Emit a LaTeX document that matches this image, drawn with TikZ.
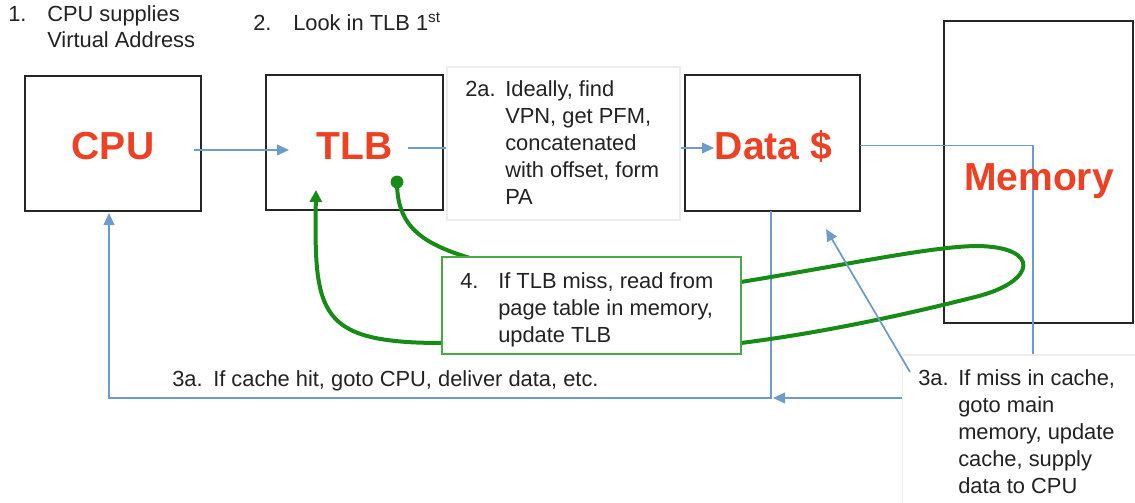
\documentclass[tikz,border=0pt]{standalone}
\usepackage{fontspec}
\setmainfont{Liberation Sans}
\usetikzlibrary{arrows.meta}
\definecolor{boxred}{RGB}{238,64,34}
\definecolor{lineblue}{RGB}{108,155,205}
\definecolor{loopgreen}{RGB}{22,140,22}
\definecolor{boxgreen}{RGB}{70,170,70}
\definecolor{txtgray}{RGB}{34,34,34}
\def\px{0.75pt}
\begin{document}
\begin{tikzpicture}[x=0.75pt,y=-0.75pt,
  blk/.style={draw=black!85, line width=1.8pt, inner sep=0},
  lbl/.style={font=\fontsize{29.3}{32}\selectfont\bfseries, text=boxred, inner sep=0, anchor=base},
  t/.style={font=\fontsize{16.4}{20}\selectfont, text=txtgray, inner sep=0, anchor=base west},
  panel/.style={fill=white, draw=black!7, line width=0.8pt, inner sep=0},
  gpanel/.style={fill=white, draw=boxgreen, line width=1.2pt, inner sep=0},
  barrow/.style={draw=lineblue, line width=1.3pt, -{Triangle[length=9pt,width=8pt]}},
  bline/.style={draw=lineblue, line width=1.3pt},
  gline/.style={draw=loopgreen, line width=3pt},
  garrow/.style={draw=loopgreen, line width=3pt, -{Triangle[length=9pt,width=9pt]}}]
\useasboundingbox (0,0) rectangle (1135,503);
\fill[white] (0,0) rectangle (1135,503);

% main boxes
\node[blk, minimum width=176*\px, minimum height=135*\px] (cpu) at (113,143.5) {};
\node[blk, minimum width=177*\px, minimum height=135*\px] (tlb) at (354.5,142.5) {};
\node[blk, minimum width=175*\px, minimum height=136*\px] (data) at (772.5,143) {};
\node[blk, minimum width=189*\px, minimum height=302*\px] (mem) at (1038.5,172) {};

% coordinates for connector ends
\coordinate (cpuA) at (194,150);
\coordinate (tlbIn) at (289,150);
\coordinate (tlbA) at (408,148);
\coordinate (dataIn) at (714,148);
\coordinate (dataR) at (860,145.5);
\coordinate (memL) at (1033,145.5);
\coordinate (memD) at (1033,398);
\coordinate (missTip) at (773,398);
\coordinate (dataB) at (771,211);
\coordinate (dataBL) at (771,398);
\coordinate (cpuBL) at (109,398);
\coordinate (cpuB) at (109,213);
\coordinate (tlbdot) at (397,182);
\coordinate (tlbtip) at (316,190);

% blue connectors
\draw[barrow] (cpuA) -- (tlbIn);
\draw[barrow] (tlbA) -- (dataIn);
\draw[barrow] (dataR) -- (memL) -- (memD) -- (missTip);
\draw[barrow] (dataB) -- (dataBL) -- (cpuBL) -- (cpuB);

% green curves
\fill[loopgreen] (tlbdot) circle (4.8pt);
\draw[gline] (tlbdot) .. controls (397,225) and (420,243) .. (470,258);
\draw[garrow] (442,343) .. controls (318,343) and (314,314) .. (tlbtip);
\draw[gline] (741,282) .. controls (850,264) and (930,247) .. (975,246)
   .. controls (1042,246) and (1037,282) .. (975,297)
   .. controls (900,316) and (820,333) .. (741,343);

% text panels
\node[panel, minimum width=233*\px, minimum height=153*\px] (p2a) at (563.5,143.5) {};
\node[gpanel, minimum width=299*\px, minimum height=97*\px] (p4) at (591.5,305.5) {};
\node[panel, minimum width=233*\px, minimum height=150*\px] (p3b) at (1019,430) {};

% diagonal blue arrow
\coordinate (diagS) at (910,372);
\coordinate (diagE) at (826,229);
\draw[barrow] (diagS) -- (diagE);

% box labels
\node[lbl] (lcpu) at (113,159) {CPU};
\node[lbl] (ltlb) at (354.5,159) {TLB};
\node[lbl] (ldata) at (773.5,159) {Data \$};
\node[lbl] (lmem) at (1039,190) {Memory};

% texts
\node[t] (n1) at (8,22) {1.};
\foreach \s [count=\i from 0] in {{CPU supplies},{Virtual Address}}
  \node[t] (t1-\i) at (47,22+26*\i) {\s};
\node[t] (n2) at (253,31) {2.};
\node[t] (t2) at (293,31) {Look in TLB 1\textsuperscript{st}};
\node[t] (n2a) at (465,97) {2a.};
\foreach \s [count=\i from 0] in {{Ideally, find},{VPN, get PFM,},{concatenated},{with offset, form},{PA}}
  \node[t] (t2a-\i) at (505,97+26.8*\i) {\s};
\node[t] (n4) at (460,288) {4.};
\foreach \s [count=\i from 0] in {{If TLB miss, read from},{page table in memory,},{update TLB}}
  \node[t] (t4-\i) at (498,288+27*\i) {\s};
\node[t] (n3a) at (172,386) {3a.};
\node[t] (t3a) at (213,386) {If cache hit, goto CPU, deliver data, etc.};
\node[t] (n3b) at (918,385) {3a.};
\foreach \s [count=\i from 0] in {{If miss in cache,},{goto main},{memory, update},{cache, supply},{data to CPU}}
  \node[t] (t3b-\i) at (958,385+27*\i) {\s};
\end{tikzpicture}
\end{document}
